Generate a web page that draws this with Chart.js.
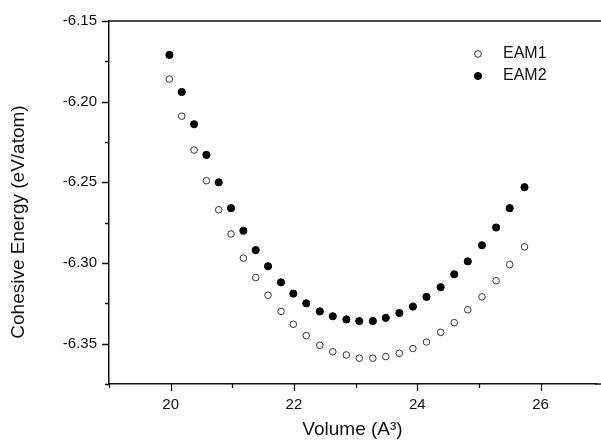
<!DOCTYPE html>
<html>
<head>
<meta charset="utf-8">
<title>Cohesive energy vs volume</title>
<script src="https://cdn.jsdelivr.net/npm/chart.js@4.4.1/dist/chart.umd.min.js"></script>
<style>
  body { margin: 0; background: #fff; }
  #wrap { width: 601px; height: 446px; }
</style>
</head>
<body>
<div id="wrap"><canvas id="energycanvas" width="601" height="446"></canvas></div>
<script>
// volumes (A^3)
var volumes = [19.98, 20.18, 20.38, 20.58, 20.78, 20.98, 21.18, 21.38, 21.58, 21.79,
               21.99, 22.20, 22.42, 22.63, 22.85, 23.06, 23.28, 23.49, 23.71, 23.93,
               24.15, 24.38, 24.60, 24.82, 25.05, 25.28, 25.50, 25.74];

var eam1 = [-6.186, -6.209, -6.230, -6.249, -6.267, -6.282, -6.297, -6.309, -6.320, -6.330,
            -6.338, -6.345, -6.351, -6.355, -6.357, -6.359, -6.359, -6.358, -6.356, -6.353,
            -6.349, -6.343, -6.337, -6.329, -6.321, -6.311, -6.301, -6.290];

var eam2 = [-6.171, -6.194, -6.214, -6.233, -6.250, -6.266, -6.280, -6.292, -6.302, -6.312,
            -6.319, -6.325, -6.330, -6.333, -6.335, -6.336, -6.336, -6.334, -6.331, -6.327,
            -6.321, -6.315, -6.307, -6.299, -6.289, -6.278, -6.266, -6.253];

var seriesNames = ['EAM1', 'EAM2'];
var xTitle = 'Volume (A\u00B3)';
var yTitle = 'Cohesive Energy (eV/atom)';

function toPoints(ys) {
  var pts = [];
  for (var i in ys) {
    pts.push({x: volumes[i], y: ys[i]});
  }
  return pts;
}

function isMajorY(v) {
  return Math.abs(Math.round(v * 1000)) % 50 === 0;
}
function isMajorX(v) {
  return Math.round(v) % 2 === 0;
}

// tick marks, frame lines, y title and the legend
var extras = {
  id: 'extras',
  afterDraw: function(chart) {
    var ctx = chart.ctx;
    var area = chart.chartArea;
    var xs = chart.scales.x, ys = chart.scales.y;
    ctx.save();
    ctx.strokeStyle = '#111';
    ctx.lineWidth = 1.3;
    ctx.beginPath();
    ys.ticks.forEach(function(t) {
      var py = Math.round(ys.getPixelForValue(t.value)) + 0.5;
      var len = isMajorY(t.value) ? 7 : 4;
      ctx.moveTo(area.left - len, py);
      ctx.lineTo(area.left, py);
    });
    xs.ticks.forEach(function(t) {
      var px = Math.round(xs.getPixelForValue(t.value)) + 0.5;
      var len = isMajorX(t.value) ? 7 : 4;
      ctx.moveTo(px, area.bottom);
      ctx.lineTo(px, area.bottom + len);
    });
    ctx.moveTo(area.left, area.top);
    ctx.lineTo(chart.width, area.top);
    ctx.stroke();
    // axis line runs on to the edge of the picture
    ctx.lineWidth = 1.5;
    ctx.beginPath();
    ctx.moveTo(area.right - 1, area.bottom);
    ctx.lineTo(chart.width, area.bottom);
    ctx.stroke();

    // y axis title
    ctx.fillStyle = '#111';
    ctx.font = '19px "Liberation Sans", Arial, sans-serif';
    ctx.textAlign = 'center';
    ctx.textBaseline = 'middle';
    ctx.translate(19, 222);
    ctx.rotate(-Math.PI / 2);
    ctx.fillText(yTitle, 0, 0);
    ctx.restore();

    // legend
    ctx.save();
    ctx.font = '16px "Liberation Sans", Arial, sans-serif';
    ctx.textAlign = 'left';
    ctx.textBaseline = 'middle';
    chart.data.datasets.forEach(function(ds, i) {
      var ly = 54 + i * 22;
      ctx.beginPath();
      ctx.arc(478, ly, ds.pointRadius, 0, Math.PI * 2);
      ctx.fillStyle = ds.pointBackgroundColor;
      ctx.fill();
      ctx.lineWidth = ds.pointBorderWidth;
      ctx.strokeStyle = ds.pointBorderColor;
      ctx.stroke();
      ctx.fillStyle = '#111';
      ctx.fillText(ds.label, 503, ly);
    });
    ctx.restore();
  }
};

var chartdata = {
  datasets: [
    {
      label: seriesNames[0],
      data: toPoints(eam1),
      pointRadius: 3.3,
      pointBackgroundColor: '#ffffff',
      pointBorderColor: '#333333',
      pointBorderWidth: 1,
      showLine: false
    },
    {
      label: seriesNames[1],
      data: toPoints(eam2),
      pointRadius: 3.6,
      pointBackgroundColor: '#000000',
      pointBorderColor: '#000000',
      pointBorderWidth: 1,
      showLine: false
    }
  ]
};

var tickFont = {family: '"Liberation Sans", Arial, sans-serif', size: 15};

var ctx = document.getElementById('energycanvas');
var scatterGraph = new Chart(ctx, {
  type: 'scatter',
  data: chartdata,
  plugins: [extras],
  options: {
    responsive: false,
    animation: false,
    layout: {padding: {top: 20, right: 0, left: 0, bottom: 0}},
    plugins: {
      legend: {display: false},
      tooltip: {enabled: false}
    },
    scales: {
      x: {
        type: 'linear',
        min: 19,
        max: 26.9,
        grid: {display: false, drawTicks: false},
        border: {display: true, color: '#111', width: 1.5},
        ticks: {
          stepSize: 1,
          padding: 12,
          color: '#111',
          font: tickFont,
          maxRotation: 0,
          autoSkip: false,
          includeBounds: false,
          callback: function(v) { return isMajorX(v) ? String(Math.round(v)) : ''; }
        },
        title: {
          display: true,
          text: xTitle,
          color: '#111',
          font: {family: '"Liberation Sans", Arial, sans-serif', size: 19},
          padding: {top: 2, bottom: 5}
        },
        afterFit: function(scale) {
          scale.height = 62;
          scale.paddingLeft = 0;
          scale.paddingRight = 0;
        }
      },
      y: {
        type: 'linear',
        min: -6.375,
        max: -6.15,
        grid: {display: false, drawTicks: false},
        border: {display: true, color: '#111', width: 1.5},
        ticks: {
          stepSize: 0.025,
          padding: 12,
          color: '#111',
          font: tickFont,
          autoSkip: false,
          callback: function(v) { return isMajorY(v) ? v.toFixed(2) : ''; }
        },
        afterFit: function(scale) { scale.width = 109; }
      }
    }
  }
});
</script>
</body>
</html>
